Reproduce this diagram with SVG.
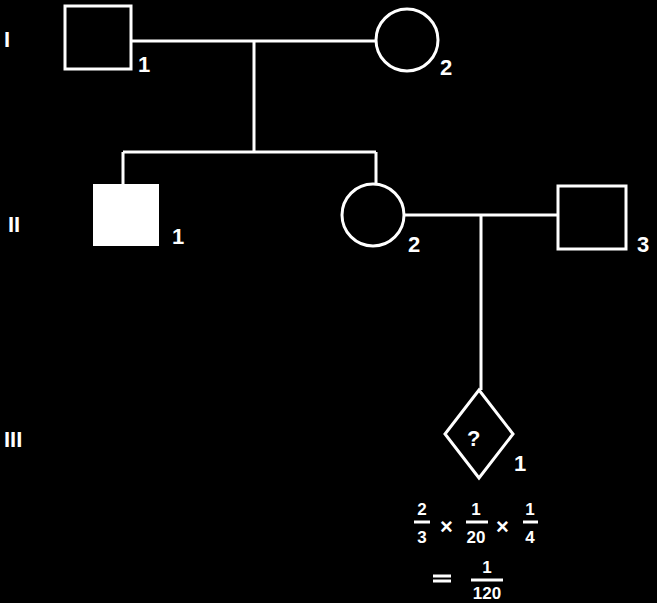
<svg xmlns="http://www.w3.org/2000/svg" width="657" height="603" viewBox="0 0 657 603">
<style>
.s{fill:none;stroke:#fff;stroke-width:3}
.t{fill:#fff;font-family:"Liberation Sans",Arial,sans-serif;font-weight:bold;font-size:22px}
.f{fill:#fff;font-family:"Liberation Sans",Arial,sans-serif;font-weight:bold;font-size:17px;text-anchor:middle}
</style>
<rect width="657" height="603" fill="#000"/>
<g id="connectors" class="s">
<path d="M131 41H376M254 41V152M123 152H376M123 152V184M376 152V184M404 215H558M481 215V390"/>
</g>
<g id="I-1"><rect class="s" x="65" y="6" width="66" height="63"/><text class="t" x="138" y="72">1</text></g>
<g id="I-2"><circle class="s" cx="407" cy="40" r="31"/><text class="t" x="440" y="75">2</text></g>
<g id="II-1"><rect x="93" y="184" width="66" height="62" fill="#fff"/><text class="t" x="172" y="244">1</text></g>
<g id="II-2"><circle class="s" cx="373" cy="215" r="31"/><text class="t" x="408" y="252">2</text></g>
<g id="II-3"><rect class="s" x="558" y="186" width="68" height="63"/><text class="t" x="637" y="252">3</text></g>
<g id="III-1"><path class="s" d="M479 390L513 434L479 478L445 434Z"/><text class="t" x="467" y="446" font-size="26">?</text><text class="t" x="514" y="471">1</text></g>
<g id="gen" class="t"><text x="4" y="47">I</text><text x="8" y="232">II</text><text x="4" y="447">III</text></g>
<g id="calc">
<text class="f" x="422" y="515">2</text><text class="f" x="422" y="543">3</text><path d="M414 522H430" class="s" stroke-width="2"/>
<text class="t" x="440" y="534" font-weight="normal" font-size="28">×</text>
<text class="f" x="476" y="515">1</text><text class="f" x="476" y="543">20</text><path d="M466 522H488" class="s" stroke-width="2"/>
<text class="t" x="496" y="534" font-weight="normal" font-size="28">×</text>
<text class="f" x="530" y="515">1</text><text class="f" x="530" y="543">4</text><path d="M523 522H538" class="s" stroke-width="2"/>
<path d="M433 576H451M433 581H451" class="s" stroke-width="2.5"/>
<text class="f" x="487" y="573">1</text><text class="f" x="487" y="599">120</text><path d="M471 580H503" class="s" stroke-width="2"/>
</g>
</svg>
